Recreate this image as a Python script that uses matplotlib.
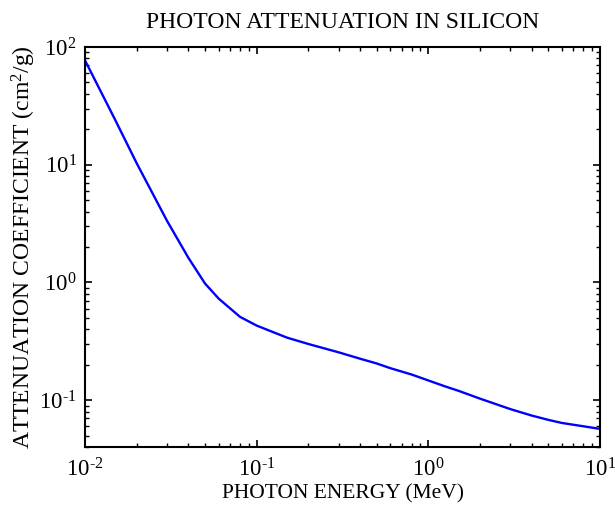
import matplotlib
matplotlib.use("Agg")
import matplotlib.pyplot as plt
from matplotlib.ticker import FuncFormatter
import numpy as np

# photon energy (MeV) and mass attenuation coefficient (cm^2/g)
energy = [0.01, 0.015, 0.02, 0.03, 0.04, 0.05, 0.06, 0.08, 0.1, 0.15, 0.2,
          0.3, 0.4, 0.5, 0.6, 0.8, 1.0, 1.25, 1.5, 2.0, 3.0, 4.0, 5.0,
          6.0, 8.0, 10.0]
atten = [77.0, 24.0, 10.3, 3.35, 1.62, 0.98, 0.73, 0.51, 0.43, 0.34, 0.30,
         0.255, 0.225, 0.205, 0.187, 0.165, 0.147, 0.131, 0.12, 0.103,
         0.084, 0.074, 0.068, 0.064, 0.060, 0.057]

plt.rcParams["font.family"] = ["Liberation Serif", "DejaVu Serif"]
plt.rcParams["mathtext.fontset"] = "custom"
plt.rcParams["mathtext.rm"] = "Liberation Serif"
plt.rcParams["mathtext.it"] = "Liberation Serif:italic"


def pow10(v, pos):
    # MATLAB style: 10 with a short hyphen in the exponent
    e = int(round(np.log10(v)))
    exp = r"\text{-}%d" % -e if e < 0 else "%d" % e
    return r"$10^{%s}$" % exp


fig = plt.figure(figsize=(6.15, 5.08), dpi=100)
fig.patch.set_facecolor("white")
ax = fig.add_axes([85 / 615, 61 / 508, 515 / 615, 400 / 508])

ax.loglog(energy, atten, color=(0, 0, 1), lw=1.7)

ax.set_xlim(1e-2, 1e1)
ax.set_ylim(0.04, 1e2)
ax.xaxis.set_major_formatter(FuncFormatter(pow10))
ax.yaxis.set_major_formatter(FuncFormatter(pow10))

ax.set_title("PHOTON ATTENUATION IN SILICON", fontsize=17, pad=14)
ax.set_xlabel("PHOTON ENERGY (MeV)", fontsize=15.5, labelpad=2)
ax.set_ylabel("ATTENUATION COEFFICIENT (cm$^2$/g)", fontsize=17, labelpad=1)

for s in ax.spines.values():
    s.set_linewidth(1.5)
ax.tick_params(which="both", direction="in", top=True, right=True, labelsize=16.5)
ax.tick_params(which="major", length=5, width=1.2, pad=8)
ax.tick_params(which="minor", length=3, width=1.0)
ax.tick_params(axis="y", which="major", pad=6)

fig.savefig("out.png", dpi=100, facecolor="white")
